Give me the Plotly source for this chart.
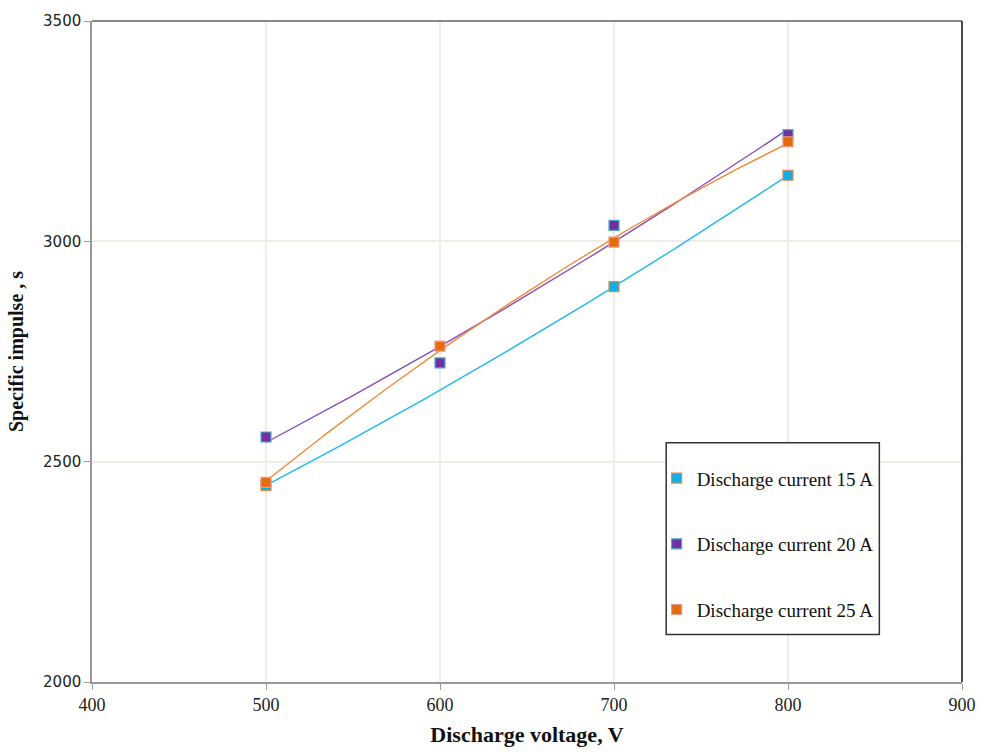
import numpy as np
import plotly.graph_objects as go

# Data
v15 = [500, 700, 800]
isp15 = [2446, 2897, 3150]
v20 = [500, 600, 700, 800]
isp20 = [2556, 2724, 3036, 3242]
v25 = [500, 600, 700, 800]
isp25 = [2453, 2762, 2998, 3226]

names = ["Discharge current 15 A", "Discharge current 20 A", "Discharge current 25 A"]
fill_colors = ["#12aee8", "#7030a0", "#e46c0a"]
edge_colors = ["#e8884a", "#4bacc6", "#e89a8a"]
line_colors = ["#1fb8ef", "#8a4cb8", "#ef8a3a"]

fig = go.Figure()
series = [(v15, isp15), (v20, isp20), (v25, isp25)]
for i, (xv, yv) in enumerate(series):
    coef = np.polyfit(xv, yv, 2)
    xs = np.linspace(min(xv), max(xv), 120)
    fig.add_trace(go.Scatter(x=xs, y=np.polyval(coef, xs), mode="lines",
                             line=dict(color=line_colors[i], width=1.4),
                             showlegend=False, hoverinfo="skip"))
for i, (xv, yv) in enumerate(series):
    fig.add_trace(go.Scatter(x=xv, y=yv, mode="markers", name=names[i],
                             legendgroup=str(i),
                             marker=dict(symbol="square", size=10, color=fill_colors[i],
                                         line=dict(color=edge_colors[i], width=1.2))))

# plot frame (top and right) and legend box
fig.add_shape(type="line", xref="paper", yref="paper", x0=0, x1=1, y0=1, y1=1,
              line=dict(color="#606060", width=1.5))
fig.add_shape(type="line", xref="paper", yref="paper", x0=1, x1=1, y0=0, y1=1,
              line=dict(color="#111111", width=1.5))
fig.add_shape(type="rect", xref="paper", yref="paper", x0=0.660, x1=0.905, y0=0.072, y1=0.362,
              line=dict(color="#333333", width=1.5), fillcolor="white", layer="above")

fig.update_layout(
    width=988, height=755,
    margin=dict(l=92, r=20, t=19, b=67),
    paper_bgcolor="white", plot_bgcolor="white",
    legend=dict(x=0.649, y=0.337, xanchor="left", yanchor="top",
                bgcolor="rgba(0,0,0,0)", borderwidth=0,
                font=dict(family="Liberation Serif", size=19, color="#111111"),
                traceorder="grouped", tracegroupgap=38, itemwidth=30),
    xaxis=dict(range=[400, 900], dtick=100, showgrid=True, gridcolor="#efede6", gridwidth=1.5,
               zeroline=False, showline=True, linecolor="#999999", linewidth=1.5,
               ticks="outside", ticklen=6, tickcolor="#999999",
               tickfont=dict(family="Liberation Serif", size=18, color="#222222"),
               title=dict(text="<b>Discharge voltage, V</b>", standoff=12,
                          font=dict(family="Liberation Serif", size=22, color="#111111"))),
    yaxis=dict(range=[2000, 3500], dtick=500, showgrid=True, gridcolor="#efede6", gridwidth=1.5,
               zeroline=False, showline=True, linecolor="#999999", linewidth=1.5,
               ticks="outside", ticklen=6, tickcolor="#999999",
               tickfont=dict(family="DejaVu Sans", size=15, color="#222222"),
               title=dict(text="<b>Specific impulse , s</b>", standoff=14,
                          font=dict(family="Liberation Serif", size=20, color="#111111"))),
)

fig.write_html("out.html")
